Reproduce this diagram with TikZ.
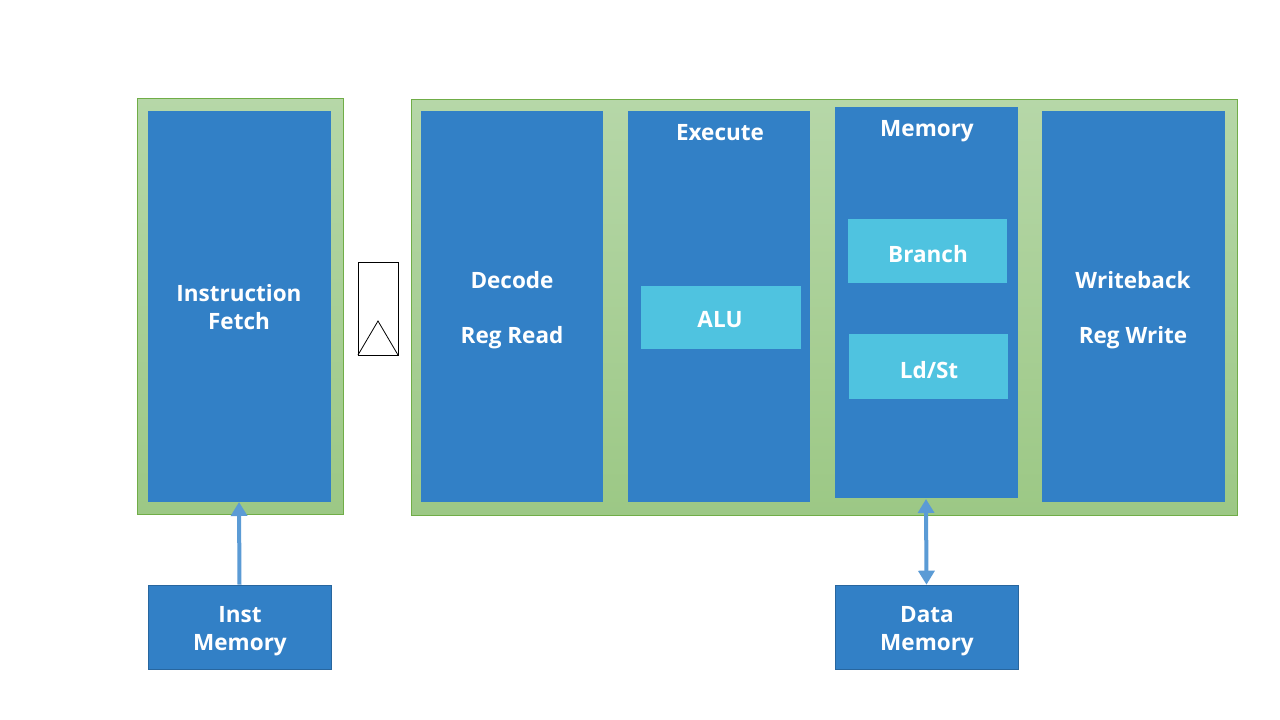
\documentclass[tikz,border=0pt]{standalone}
\usepackage{fontspec}
\setsansfont{Open Sans}
\usetikzlibrary{arrows.meta}
\definecolor{blk}{HTML}{3280C6}
\definecolor{lblue}{HTML}{4FC3E0}
\definecolor{gtop}{HTML}{B6D7A8}
\definecolor{gbot}{HTML}{9CC885}
\definecolor{gedge}{HTML}{70AD47}
\definecolor{arr}{HTML}{5B9BD5}
\tikzset{
  x=1pt,y=-1pt,
  stage/.style={fill=blk,draw=none},
  sub/.style={fill=lblue,draw=none},
  frame/.style={top color=gtop,bottom color=gbot,draw=gedge,line width=1pt},
  lbl/.style={text=white,font=\sffamily\bfseries\fontsize{22.5}{28}\selectfont,align=center,inner sep=0pt},
  con/.style={draw=arr,line width=4pt,-{Triangle[length=14pt,width=16pt]}},
  con2/.style={draw=arr,line width=4pt,{Triangle[length=14pt,width=16pt]}-{Triangle[length=14pt,width=16pt]}},
}
\begin{document}
\begin{tikzpicture}
\useasboundingbox[fill=white] (0,0) rectangle (1280,720);
% frames
\path[frame] (137,98) rectangle (343,514);
\path[frame] (411,99) rectangle (1237,515);
% stages
\path[stage] (148,111) rectangle (331,502);
\path[stage] (421,111) rectangle (603,502);
\path[stage] (628,111) rectangle (810,502);
\path[stage] (835,107) rectangle (1018,498);
\path[stage] (1042,111) rectangle (1225,502);
\coordinate (ifb) at (239,502);
\coordinate (memb) at (926,499);
% sub units
\path[sub] (848,219) rectangle (1007,283);
\path[sub] (641,286) rectangle (801,349);
\path[sub] (849,334) rectangle (1008,399);
% labels
\node[lbl] (iflbl) at (239,307) {Instruction\\Fetch};
\node[lbl] (dec) at (512,280) {Decode};
\node[lbl] (rr) at (512,338) {Reg Read};
\node[lbl] (ex) at (720,133) {Execute};
\node[lbl] (mem) at (927,131) {Memory};
\node[lbl] (wb) at (1133,280) {Writeback};
\node[lbl] (rw) at (1133,338) {Reg Write};
\node[lbl] (br) at (928,254) {Branch};
\node[lbl] (alu) at (720,320) {ALU};
\node[lbl] (ldst) at (929,370) {Ld/St};
% pipeline register
\draw[black,line width=0.8pt] (358,262) rectangle (398,355);
\draw[black,line width=0.8pt] (358,355) -- (378,321) -- (398,355);
% memories
\node[stage,draw=blk!80!black,line width=0.6pt,minimum width=183pt,minimum height=84pt,inner sep=0pt] (imem) at (239.5,627) {};
\node[lbl] at (240,631) {Inst\\Memory};
\node[stage,draw=blk!80!black,line width=0.6pt,minimum width=183pt,minimum height=84pt,inner sep=0pt] (dmem) at (926.5,627) {};
\node[lbl] at (927,631) {Data\\Memory};
% connectors
\draw[con] (imem.north) -- (ifb);
\draw[con2] (memb) -- (dmem.north);
\end{tikzpicture}
\end{document}
